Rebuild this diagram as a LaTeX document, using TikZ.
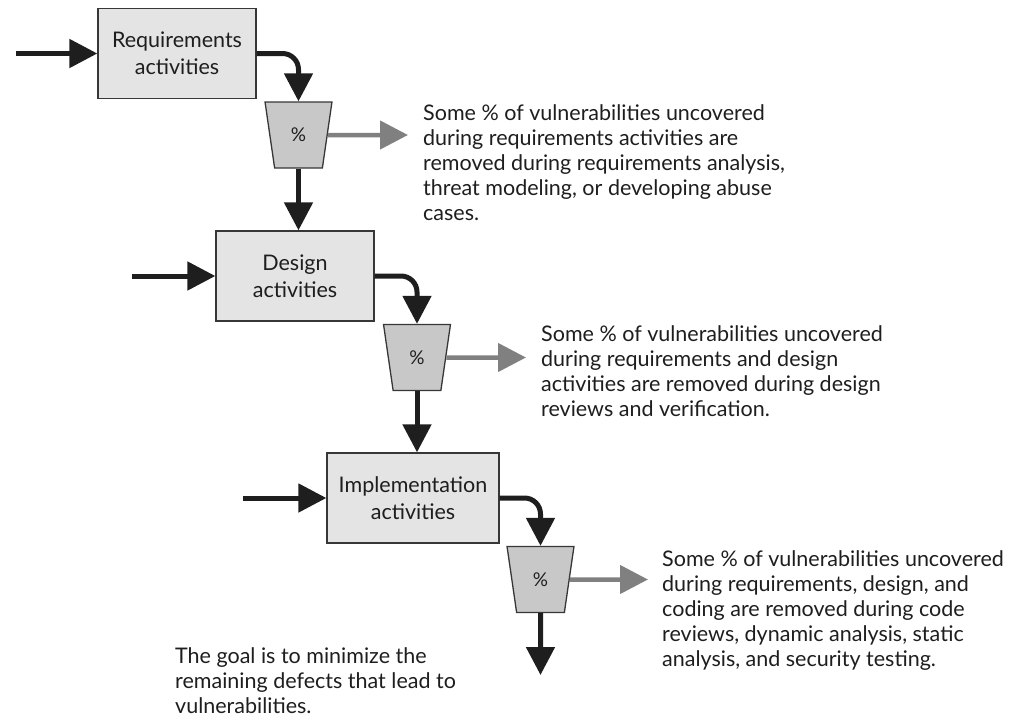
\documentclass[tikz,border=0pt]{standalone}
\usepackage{fontspec}
\setmainfont{Lato}
\usetikzlibrary{arrows.meta,shapes.geometric}

\definecolor{boxfill}{RGB}{228,228,228}
\definecolor{funfill}{RGB}{200,200,200}
\definecolor{edge}{RGB}{55,55,55}
\definecolor{ink}{RGB}{30,30,30}
\definecolor{leak}{RGB}{128,128,128}

\tikzset{
  activity/.style={draw=edge, line width=1.3pt, fill=boxfill, minimum height=90pt,
    align=center, inner sep=0pt, text=ink, font=\fontsize{21.5}{27}\selectfont},
  funnel/.style={draw=edge, line width=1.3pt, fill=funfill, shape=trapezium,
    trapezium left angle=102.4, trapezium right angle=102.4, trapezium stretches=true,
    minimum width=67pt, minimum height=66pt, inner sep=0pt, text=ink,
    font=\fontsize{19}{22}\selectfont},
  flow/.style={draw=ink, line width=5pt, -{Triangle[length=28pt,width=28pt]}},
  curvedflow/.style={flow, rounded corners=16pt},
  leakage/.style={draw=leak, line width=4.5pt, -{Triangle[length=28pt,width=28pt]}},
  note/.style={anchor=north west, align=left, inner sep=0pt, text=ink,
    font=\fontsize{21.5}{25}\selectfont},
}

\begin{document}
\begin{tikzpicture}[x=1pt, y=-1pt]
  \useasboundingbox (0,0) rectangle (1013,715);

  % phases
  \node[activity, minimum width=158pt] (req) at (177,53.5) {Requirements\\activities};
  \node[activity, minimum width=158pt] (des) at (295,276) {Design\\activities};
  \node[activity, minimum width=172pt] (imp) at (413,498) {Implementation\\activities};

  % removal filters
  \node[funnel] (f1) at (298.5,135) {\%};
  \node[funnel] (f2) at (417,357.5) {\%};
  \node[funnel] (f3) at (540.5,579.5) {\%};

  % loose ends
  \coordinate (in1) at (16,53.5);
  \coordinate (in2) at (132,276);
  \coordinate (in3) at (243,498);
  \coordinate (out1) at (408,135);
  \coordinate (out2) at (526,357.5);
  \coordinate (out3) at (648,579.5);
  \coordinate (rest) at (540.5,675);

  % incoming work
  \draw[flow] (in1) -- (req.west);
  \draw[flow] (in2) -- (des.west);
  \draw[flow] (in3) -- (imp.west);

  % into each filter
  \draw[curvedflow] (req.east) -| (f1.north);
  \draw[curvedflow] (des.east) -| (f2.north);
  \draw[curvedflow] (imp.east) -| (f3.north);

  % passed on to the next phase
  \draw[flow] (f1.south) -- (f1.south |- des.north);
  \draw[flow] (f2.south) -- (f2.south |- imp.north);
  \draw[flow] (f3.south) -- (rest);

  % removed vulnerabilities
  \draw[leakage] (f1.east) -- (out1);
  \draw[leakage] (f2.east) -- (out2);
  \draw[leakage] (f3.east) -- (out3);

  % explanations
  \node[note] (n1) at (423,102.5) {\strut Some \% of vulnerabilities uncovered\\
    during requirements activities are\\
    removed during requirements analysis,\\
    threat modeling, or developing abuse\\
    cases.};
  \node[note] (n2) at (541,323.5) {\strut Some \% of vulnerabilities uncovered\\
    during requirements and design\\
    activities are removed during design\\
    reviews and verification.};
  \node[note] (n3) at (662,548.5) {\strut Some \% of vulnerabilities uncovered\\
    during requirements, design, and\\
    coding are removed during code\\
    reviews, dynamic analysis, static\\
    analysis, and security testing.};
  \node[note] (n4) at (175,645.5) {\strut The goal is to minimize the\\
    remaining defects that lead to\\
    vulnerabilities.};
\end{tikzpicture}
\end{document}
